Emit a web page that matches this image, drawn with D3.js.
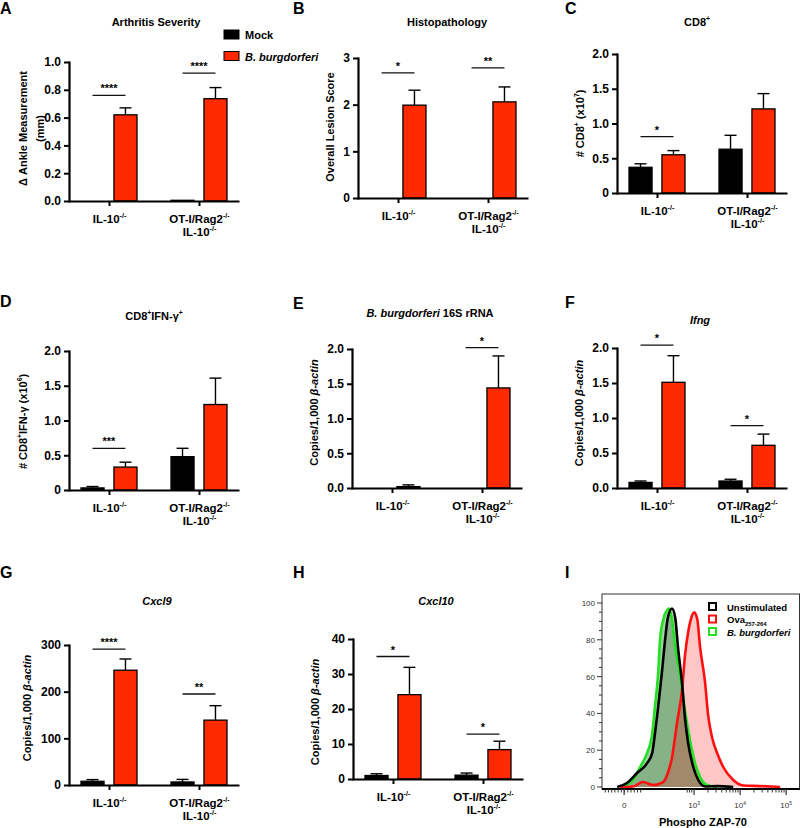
<!DOCTYPE html>
<html><head><meta charset="utf-8">
<script src="https://cdn.jsdelivr.net/npm/d3@7"></script>
<style>body{margin:0;background:#fff} svg{display:block} text{font-family:"Liberation Sans",Arial,Helvetica,sans-serif}</style>
</head><body><svg id="c" width="800" height="828"></svg>
<script>
// ---------- DATA ----------
const groups = ["IL-10-/-", "OT-I/Rag2-/- IL-10-/-"];
const series = ["Mock", "B. burgdorferi"];

// A Arthritis severity
const arthritisMock = [0, 0.005];
const arthritisMockSem = [0, 0];
const arthritisBb = [0.62, 0.736];
const arthritisBbSem = [0.05, 0.08];
const arthritisSig = [0.76, 0.92];
const arthritisStars = ["****", "****"];
const arthritisTicks = [0, 0.2, 0.4, 0.6, 0.8, 1.0];

// B Histopathology
const histoMock = [0, 0];
const histoMockSem = [0, 0];
const histoBb = [1.99, 2.06];
const histoBbSem = [0.32, 0.32];
const histoSig = [2.68, 2.79];
const histoStars = ["*", "**"];
const histoTicks = [0, 1, 2, 3];

// C CD8+
const cd8Mock = [0.37, 0.63];
const cd8MockSem = [0.05, 0.20];
const cd8Bb = [0.55, 1.21];
const cd8BbSem = [0.06, 0.22];
const cd8Sig = [0.81, null];
const cd8Stars = ["*", ""];
const cd8Ticks = [0, 0.5, 1.0, 1.5, 2.0];

// D CD8+IFN-g+
const ifnCellMock = [0.03, 0.48];
const ifnCellMockSem = [0.02, 0.12];
const ifnCellBb = [0.33, 1.23];
const ifnCellBbSem = [0.07, 0.38];
const ifnCellSig = [0.60, null];
const ifnCellStars = ["***", ""];
const ifnCellTicks = [0, 0.5, 1.0, 1.5, 2.0];

// E B. burgdorferi 16S rRNA
const rrnaMock = [0, 0];
const rrnaMockSem = [0, 0];
const rrnaBb = [0.02, 1.44];
const rrnaBbSem = [0.025, 0.46];
const rrnaSig = [null, 2.02];
const rrnaStars = ["", "*"];
const rrnaTicks = [0, 0.5, 1.0, 1.5, 2.0];

// F Ifng
const ifngMock = [0.08, 0.10];
const ifngMockSem = [0.02, 0.025];
const ifngBb = [1.51, 0.61];
const ifngBbSem = [0.38, 0.16];
const ifngSig = [2.04, 0.89];
const ifngStars = ["*", "*"];
const ifngTicks = [0, 0.5, 1.0, 1.5, 2.0];

// G Cxcl9
const cxcl9Mock = [8, 6.5];
const cxcl9MockSem = [3.6, 5.5];
const cxcl9Bb = [246, 139];
const cxcl9BbSem = [24, 31];
const cxcl9Sig = [291, 195];
const cxcl9Stars = ["****", "**"];
const cxcl9Ticks = [0, 100, 200, 300];

// H Cxcl10
const cxcl10Mock = [1.0, 1.1];
const cxcl10MockSem = [0.5, 0.6];
const cxcl10Bb = [24.1, 8.4];
const cxcl10BbSem = [7.8, 2.4];
const cxcl10Sig = [35.0, 12.8];
const cxcl10Stars = ["*", "*"];
const cxcl10Ticks = [0, 10, 20, 30, 40];

// I Phospho ZAP-70 histograms: [display position (decades), % of max]
const histNames = ["Unstimulated", "Ova257-264", "B. burgdorferi"];
const unstimCurve = [[1.33,0],[1.54,2.2],[1.76,7.6],[1.98,13],[2.09,18.5],[2.15,29],[2.22,43.5],[2.30,62],[2.37,80],[2.43,92],[2.52,97],[2.59,92],[2.65,76],[2.74,56],[2.80,38],[2.87,24],[2.98,11],[3.09,3.8],[3.24,0.3],[3.5,0.5],[3.85,0]];
const ovaCurve = [[1.39,0],[1.67,0.3],[1.89,2.7],[2.11,1.1],[2.33,2.7],[2.43,7.6],[2.52,16],[2.63,35],[2.74,53],[2.80,71],[2.87,84],[2.96,93.5],[3.00,95],[3.07,91],[3.13,76],[3.24,56.5],[3.30,40],[3.39,27],[3.50,18.5],[3.63,11],[3.85,3.8],[4.07,0.8],[4.43,0.5],[4.87,0]];
const bbCurve = [[1.39,0],[1.67,3.8],[1.83,10.9],[1.98,18.5],[2.09,29],[2.15,43.5],[2.22,62],[2.26,80],[2.33,91],[2.41,96],[2.46,97],[2.52,91],[2.59,76],[2.70,60],[2.80,42],[2.91,25.5],[3.02,13],[3.13,5.4],[3.28,1.1],[3.50,0]];
const zapYTicks = [0, 20, 40, 60, 80, 100];
const zapXTickPos = [1.48, 3, 4, 5];
const zapXTickExp = [null, 3, 4, 5];

// ---------- DRAWING ----------
const svg = d3.select("#c");
const RED = "#ff2a00";

function rich(t, parts, size) {
  let shift = 0;
  parts.forEach(p => {
    const ts = t.append("tspan").text(p.t);
    const target = p.sup ? -size * 0.42 : (p.sub ? size * 0.3 : 0);
    if (target !== shift) ts.attr("dy", target - shift);
    shift = target;
    if (p.sup || p.sub) ts.attr("font-size", size * 0.62);
    if (p.i) ts.attr("font-style", "italic");
  });
}

const groupLabelLines = [
  [[{t:"IL-10"},{t:"-/-",sup:true}]],
  [[{t:"OT-I/Rag2"},{t:"-/-",sup:true}],[{t:"IL-10"},{t:"-/-",sup:true}]]
];
const fmt1 = d3.format(".1f");
const fmt0 = d => d === 0 ? "0" : fmt1(d);

function letter(ch, x, y) {
  svg.append("text").attr("x", x).attr("y", y).attr("font-size", 16)
    .attr("font-weight", "bold").text(ch);
}

function barPanel(cfg) {
  const L = cfg.layout;
  const g = svg.append("g");
  const x = d3.scalePoint().domain(groups).range([L.x0, L.x0 + 170]).padding(0.4444);
  const xs = d3.scaleBand().domain(series).range([-28, 28]).paddingInner(0.3);
  const bw = xs.bandwidth();
  const y = d3.scaleLinear().domain([0, d3.max(cfg.ticks)]).range([L.yZero, L.yTop]);
  const rows = groups.flatMap((gn, i) => [
    {g: gn, s: series[0], v: cfg.mock[i], e: cfg.mockSem[i], c: "#000"},
    {g: gn, s: series[1], v: cfg.bb[i], e: cfg.bbSem[i], c: RED}
  ]);
  const cx = d => x(d.g) + xs(d.s) + bw / 2;

  const eb = rows.filter(d => d.e > 0);
  g.selectAll("line.ev").data(eb).join("line").attr("class","ev")
    .attr("x1", cx).attr("x2", cx)
    .attr("y1", d => y(d.v)).attr("y2", d => y(d.v + d.e))
    .attr("stroke", "#000").attr("stroke-width", 1.4);
  g.selectAll("line.ec").data(eb).join("line").attr("class","ec")
    .attr("x1", d => cx(d) - 6).attr("x2", d => cx(d) + 6)
    .attr("y1", d => y(d.v + d.e)).attr("y2", d => y(d.v + d.e))
    .attr("stroke", "#000").attr("stroke-width", 1.4);

  g.selectAll("rect.bar").data(rows.filter(d => d.v > 0)).join("rect").attr("class","bar")
    .attr("x", d => x(d.g) + xs(d.s)).attr("width", bw)
    .attr("y", d => y(d.v)).attr("height", d => y(0) - y(d.v))
    .attr("fill", d => d.c).attr("stroke", "#000").attr("stroke-width", 1.3);

  const sig = groups.map((gn, i) => ({g: gn, v: cfg.sig[i], s: cfg.stars[i]})).filter(d => d.v != null);
  g.selectAll("line.sig").data(sig).join("line").attr("class","sig")
    .attr("x1", d => x(d.g) + xs(series[0]) + bw / 2)
    .attr("x2", d => x(d.g) + xs(series[1]) + bw / 2)
    .attr("y1", d => y(d.v)).attr("y2", d => y(d.v))
    .attr("stroke", "#111").attr("stroke-width", 1.3);
  g.selectAll("text.star").data(sig).join("text").attr("class","star")
    .attr("x", d => x(d.g)).attr("y", d => y(d.v) - 3)
    .attr("text-anchor", "middle").attr("font-size", 11).attr("font-weight", "bold")
    .text(d => d.s);

  const ya = g.append("g").attr("transform", `translate(${L.x0},0)`)
    .call(d3.axisLeft(y).tickValues(cfg.ticks).tickSize(5).tickSizeOuter(0).tickPadding(3).tickFormat(cfg.fmt));
  ya.select(".domain").attr("stroke-width", 2.2).attr("stroke-linecap", "square");
  ya.selectAll(".tick line").attr("stroke-width", 2);
  ya.selectAll(".tick text").attr("font-size", 12).attr("font-weight", "bold").attr("fill", "#000")
    .attr("font-family", '"Liberation Sans",Arial,sans-serif');

  const xa = g.append("g").attr("transform", `translate(0,${L.yZero})`)
    .call(d3.axisBottom(x).tickSize(5).tickSizeOuter(0).tickFormat(""));
  xa.select(".domain").attr("stroke-width", 2.2);
  xa.selectAll(".tick line").attr("stroke-width", 2);
  xa.selectAll(".tick").each(function(d, i) {
    groupLabelLines[i].forEach((parts, j) => {
      const t = d3.select(this).append("text").attr("x", 0).attr("y", 22 + j * 12.5)
        .attr("text-anchor", "middle").attr("font-size", 11.5).attr("font-weight", "bold")
        .attr("fill", "#000").attr("font-family", '"Liberation Sans",Arial,sans-serif');
      rich(t, parts, 11.5);
    });
  });

  const tt = svg.append("text").attr("x", L.titleX).attr("y", L.titleY)
    .attr("text-anchor", "middle").attr("font-size", 11).attr("font-weight", "bold");
  rich(tt, cfg.title, 11);

  const ym = (L.yZero + L.yTop) / 2 + (L.yShift || 0);
  cfg.yTitle.forEach((parts, j) => {
    const t = svg.append("text")
      .attr("transform", `translate(${L.yTitleX[j]},${ym}) rotate(-90)`)
      .attr("text-anchor", "middle").attr("font-size", 11).attr("font-weight", "bold");
    rich(t, parts, 11);
  });

  letter(cfg.letter, L.letterX, L.letterY);
}

const copiesTitle = [[{t:"Copies/1,000 "},{t:"β-actin",i:true}]];

barPanel({letter:"A", title:[{t:"Arthritis Severity"}],
  yTitle:[[{t:"Δ Ankle Measurement"}],[{t:"(mm)"}]],
  ticks: arthritisTicks, fmt: fmt1, mock: arthritisMock, mockSem: arthritisMockSem,
  bb: arthritisBb, bbSem: arthritisBbSem, sig: arthritisSig, stars: arthritisStars,
  layout:{x0:69, yTop:62, yZero:201, titleX:156, titleY:26, yTitleX:[27,44], yShift:-3, letterX:0, letterY:14}});

barPanel({letter:"B", title:[{t:"Histopathology"}],
  yTitle:[[{t:"Overall Lesion Score"}]],
  ticks: histoTicks, fmt: d3.format("d"), mock: histoMock, mockSem: histoMockSem,
  bb: histoBb, bbSem: histoBbSem, sig: histoSig, stars: histoStars,
  layout:{x0:358, yTop:58, yZero:198, titleX:447, titleY:26, yTitleX:[334], yShift:-1, letterX:293, letterY:14}});

barPanel({letter:"C", title:[{t:"CD8"},{t:"+",sup:true}],
  yTitle:[[{t:"# CD8"},{t:"+",sup:true},{t:" (x10"},{t:"7",sup:true},{t:")"}]],
  ticks: cd8Ticks, fmt: fmt0, mock: cd8Mock, mockSem: cd8MockSem,
  bb: cd8Bb, bbSem: cd8BbSem, sig: cd8Sig, stars: cd8Stars,
  layout:{x0:617, yTop:54, yZero:193, titleX:697, titleY:26, yTitleX:[584], letterX:565, letterY:14}});

barPanel({letter:"D", title:[{t:"CD8"},{t:"+",sup:true},{t:"IFN-γ"},{t:"+",sup:true}],
  yTitle:[[{t:"# CD8"},{t:"+",sup:true},{t:"IFN-γ (x10"},{t:"6",sup:true},{t:")"}]],
  ticks: ifnCellTicks, fmt: fmt0, mock: ifnCellMock, mockSem: ifnCellMockSem,
  bb: ifnCellBb, bbSem: ifnCellBbSem, sig: ifnCellSig, stars: ifnCellStars,
  layout:{x0:69, yTop:351, yZero:490, titleX:154, titleY:320, yTitleX:[27], yShift:1, letterX:0, letterY:307}});

barPanel({letter:"E", title:[{t:"B. burgdorferi",i:true},{t:" 16S rRNA"}],
  yTitle: copiesTitle,
  ticks: rrnaTicks, fmt: fmt1, mock: rrnaMock, mockSem: rrnaMockSem,
  bb: rrnaBb, bbSem: rrnaBbSem, sig: rrnaSig, stars: rrnaStars,
  layout:{x0:352, yTop:349, yZero:488, titleX:430, titleY:317, yTitleX:[318], yShift:-6, letterX:293, letterY:309}});

barPanel({letter:"F", title:[{t:"Ifng",i:true}],
  yTitle: copiesTitle,
  ticks: ifngTicks, fmt: fmt1, mock: ifngMock, mockSem: ifngMockSem,
  bb: ifngBb, bbSem: ifngBbSem, sig: ifngSig, stars: ifngStars,
  layout:{x0:617, yTop:348, yZero:488, titleX:700, titleY:324, yTitleX:[583], yShift:-5, letterX:565, letterY:308}});

barPanel({letter:"G", title:[{t:"Cxcl9",i:true}],
  yTitle: copiesTitle,
  ticks: cxcl9Ticks, fmt: d3.format("d"), mock: cxcl9Mock, mockSem: cxcl9MockSem,
  bb: cxcl9Bb, bbSem: cxcl9BbSem, sig: cxcl9Sig, stars: cxcl9Stars,
  layout:{x0:69, yTop:645, yZero:785, titleX:157, titleY:605, yTitleX:[31], yShift:-7, letterX:0, letterY:578}});

barPanel({letter:"H", title:[{t:"Cxcl10",i:true}],
  yTitle: copiesTitle,
  ticks: cxcl10Ticks, fmt: d3.format("d"), mock: cxcl10Mock, mockSem: cxcl10MockSem,
  bb: cxcl10Bb, bbSem: cxcl10BbSem, sig: cxcl10Sig, stars: cxcl10Stars,
  layout:{x0:353, yTop:639, yZero:779, titleX:436, titleY:605, yTitleX:[319], yShift:3, letterX:293, letterY:578}});

// Legend (A)
const legendColors = ["#000", RED];
const lg = svg.append("g");
series.forEach((s, i) => {
  lg.append("rect").attr("x", 224).attr("y", 30 + i * 21.5).attr("width", 15).attr("height", 9)
    .attr("fill", legendColors[i]).attr("stroke", "#000").attr("stroke-width", 1);
  lg.append("text").attr("x", 245).attr("y", 39 + i * 21.5).attr("font-size", 11)
    .attr("font-weight", "bold").attr("font-style", i === 1 ? "italic" : "normal").text(s);
});

// ---------- Panel I ----------
letter("I", 565, 578);
const xI = d3.scaleLinear().domain([1.0, 5.3]).range([602, 800]);
const yI = d3.scaleLinear().domain([0, 100]).range([787, 603]);
const gi = svg.append("g");
gi.append("rect").attr("x", 602).attr("y", 594).attr("width", 197.5).attr("height", 195)
  .attr("fill", "none").attr("stroke", "#333").attr("stroke-width", 1);

const area = d3.area().x(d => xI(d[0])).y0(yI(0)).y1(d => yI(d[1])).curve(d3.curveMonotoneX);
const line = d3.line().x(d => xI(d[0])).y(d => yI(d[1])).curve(d3.curveMonotoneX);
const curves = [
  {c: bbCurve, stroke: "#22e022", fill: "rgba(30,150,30,0.42)"},
  {c: unstimCurve, stroke: "#000", fill: "rgba(0,0,0,0.16)"},
  {c: ovaCurve, stroke: "#ff1010", fill: "rgba(255,0,0,0.22)"}
];
curves.forEach(k => gi.append("path").attr("d", area(k.c)).attr("fill", k.fill));
[curves[0], curves[2], curves[1]].forEach(k => gi.append("path").attr("d", line(k.c))
  .attr("fill", "none").attr("stroke", k.stroke).attr("stroke-width", 2.6).attr("stroke-linejoin", "round"));

const yMinor = d3.range(0, 101, 5);
gi.selectAll("line.ymi").data(yMinor).join("line")
  .attr("x1", 602).attr("x2", d => zapYTicks.includes(d) ? 597 : 599)
  .attr("y1", d => yI(d)).attr("y2", d => yI(d)).attr("stroke", "#333").attr("stroke-width", 1);
gi.selectAll("text.yl").data(zapYTicks).join("text")
  .attr("x", 595).attr("y", d => yI(d) + 3).attr("text-anchor", "end")
  .attr("font-size", 8).attr("fill", "#333").attr("font-family", '"DejaVu Sans Mono",monospace').text(d => d);

gi.append("line").attr("x1", 602).attr("x2", 800).attr("y1", 789).attr("y2", 789)
  .attr("stroke", "#000").attr("stroke-width", 2);
const xMinor = d3.range(1.07, 1.86, 0.07)
  .concat([2.85, 2.9, 2.95])
  .concat(d3.range(2, 10).map(k => Math.log10(k * 1e3)))
  .concat(d3.range(2, 10).map(k => Math.log10(k * 1e4)));
gi.selectAll("line.xmi").data(xMinor).join("line")
  .attr("x1", d => xI(d)).attr("x2", d => xI(d)).attr("y1", 789).attr("y2", 792.5)
  .attr("stroke", "#333").attr("stroke-width", 1);
gi.selectAll("line.xma").data(zapXTickPos).join("line")
  .attr("x1", d => xI(d)).attr("x2", d => xI(d)).attr("y1", 789).attr("y2", 795)
  .attr("stroke", "#333").attr("stroke-width", 1.2);
zapXTickPos.forEach((p, i) => {
  const t = gi.append("text").attr("x", xI(p)).attr("y", 808).attr("text-anchor", "middle")
    .attr("font-size", 8).attr("fill", "#333").attr("font-family", '"DejaVu Sans Mono",monospace');
  if (zapXTickExp[i] == null) t.text("0");
  else rich(t, [{t:"10"},{t:String(zapXTickExp[i]), sup:true}], 8);
});
svg.append("text").attr("x", 703).attr("y", 826).attr("text-anchor", "middle")
  .attr("font-size", 11).attr("font-weight", "bold").text("Phospho ZAP-70");

const histStroke = ["#000", "#ff1010", "#22e022"];
const histLabels = [[{t:"Unstimulated"}], [{t:"Ova"},{t:"257-264",sub:true}], [{t:"B. burgdorferi",i:true}]];
histNames.forEach((n, i) => {
  const yy = 607 + i * 12.5;
  gi.append("rect").attr("x", 709).attr("y", yy - 4).attr("width", 7).attr("height", 7)
    .attr("fill", "#fff").attr("stroke", histStroke[i]).attr("stroke-width", 2);
  const t = gi.append("text").attr("x", 727).attr("y", yy + 3.5).attr("font-size", 9.5).attr("font-weight", "bold");
  rich(t, histLabels[i], 9.5);
});
</script></body></html>
